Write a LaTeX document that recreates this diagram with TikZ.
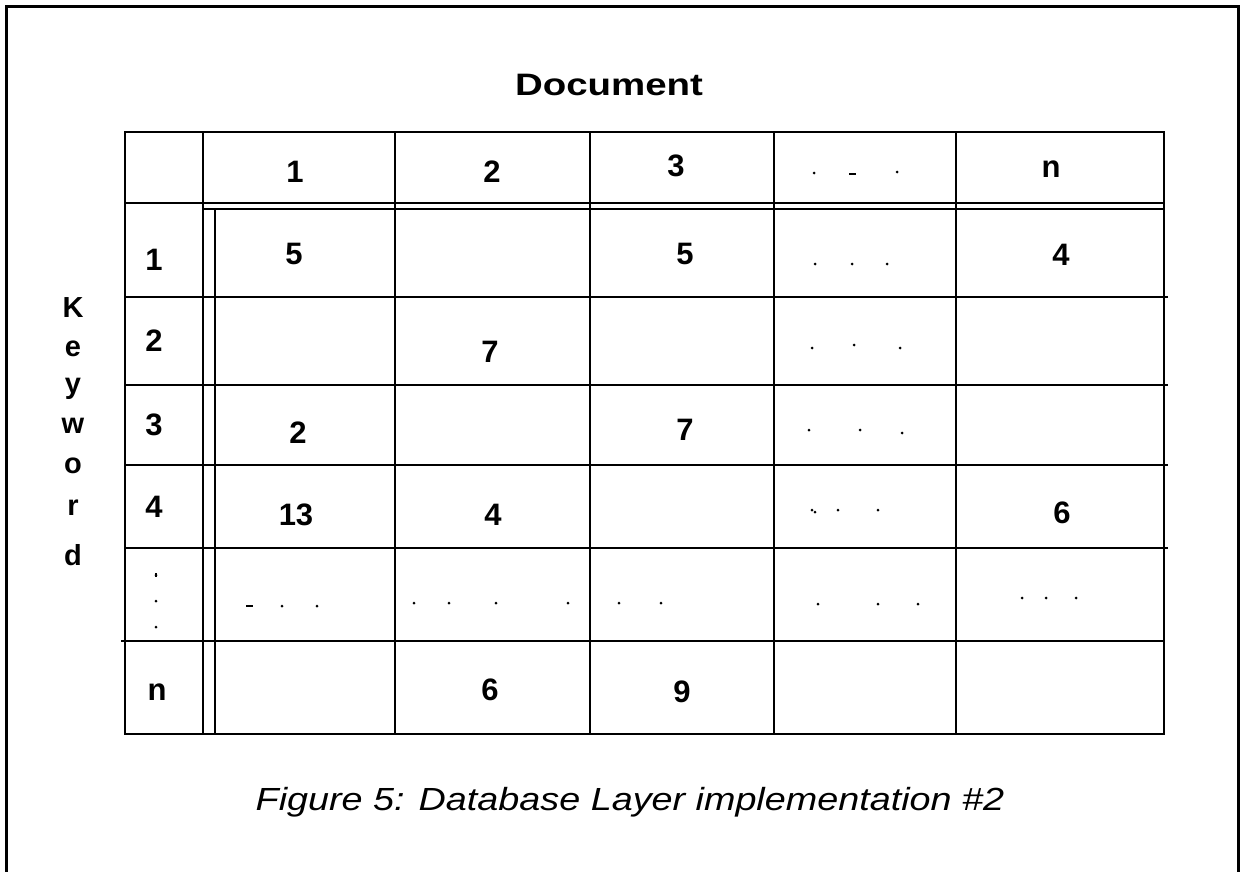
\documentclass[tikz,border=0pt]{standalone}
\usepackage{fontspec}
\setmainfont{Liberation Sans}
\begin{document}
\begin{tikzpicture}[x=1pt,y=-1pt,
  rule/.style={line width=2pt, line cap=rect},
  frame/.style={line width=3pt},
  lbl/.style={font=\fontsize{31}{31}\selectfont\bfseries, inner sep=0pt},
  kw/.style={font=\fontsize{29}{29}\selectfont\bfseries, inner sep=0pt, anchor=base},
  captxt/.style={font=\fontsize{32}{32}\selectfont\itshape, inner sep=0pt, anchor=base, xscale=1.18},
  pt/.style={fill=black},
  dsh/.style={line width=2pt}
]
\useasboundingbox (0,0) rectangle (1243,871);
\clip (0,0) rectangle (1243,871);
\fill[white] (0,0) rectangle (1243,871);
% outer frame (bottom edge out of view)
\draw[frame] (6.5,890) -- (6.5,6.5) -- (1238.5,6.5) -- (1238.5,890);

% title and axis label
\node[lbl, xscale=1.24] (doc) at (609,85) {Document};
\node[kw] (k1) at (73,317) {K};
\node[kw] (k2) at (73,356) {e};
\node[kw] (k3) at (73,393) {y};
\node[kw] (k4) at (73,433) {w};
\node[kw] (k5) at (73,473) {o};
\node[kw] (k6) at (73,515) {r};
\node[kw] (k7) at (73,565) {d};

% table grid
\draw[rule] (125,132) rectangle (1164,734);
\draw[rule] (203,132) -- (203,734);
\foreach \x in {395,590,774,956} \draw[rule] (\x,132) -- (\x,734);
\draw[rule] (125,203) -- (1164,203);
\draw[rule] (205,208.8) -- (1164,208.8);
\draw[rule] (214.5,208.8) -- (214.5,734);
\foreach \y in {297,385,465,548} \draw[rule] (125,\y) -- (1167,\y);
\draw[rule] (122,641) -- (1164,641);

% header row
\node[lbl] (h1) at (295,172) {1};
\node[lbl] (h2) at (492,172) {2};
\node[lbl] (h3) at (676,166) {3};
\node[lbl, anchor=base] (hn) at (1051,177) {n};
\fill[pt] (814,173) circle (1.5);
\draw[dsh] (849,174) -- (856,174);
\fill[pt] (897,172) circle (1.5);

% row labels
\node[lbl] (r1) at (154,260) {1};
\node[lbl] (r2) at (154,341) {2};
\node[lbl] (r3) at (154,425) {3};
\node[lbl] (r4) at (154,507) {4};
\node[lbl, anchor=base] (rn) at (157,700) {n};
\foreach \y in {575,601,627} \fill[pt] (156,\y) circle (1.5);
\draw[dsh] (156,573) -- (156,577);

% row 1
\node[lbl] (c11) at (294,254) {5};
\node[lbl] (c13) at (685,254) {5};
\node[lbl] (c1n) at (1061,255) {4};
\foreach \x/\y in {815/264,852/264,887/264} \fill[pt] (\x,\y) circle (1.5);

% row 2
\node[lbl] (c22) at (490,352) {7};
\foreach \x/\y in {812/348,854/345,900/348} \fill[pt] (\x,\y) circle (1.5);

% row 3
\node[lbl] (c31) at (298,433) {2};
\node[lbl] (c33) at (685,430) {7};
\foreach \x/\y in {809/430,860/430,902/433} \fill[pt] (\x,\y) circle (1.5);

% row 4
\node[lbl] (c41) at (296,515) {13};
\node[lbl] (c42) at (493,515) {4};
\node[lbl] (c4n) at (1062,513) {6};
\foreach \x/\y in {812/510,815/512,838/510,878/510} \fill[pt] (\x,\y) circle (1.5);

% row of ellipses
\draw[dsh] (246,606) -- (253,606);
\foreach \x/\y in {282/606,317/606,414/603,449/603,496/603,568/603,619/603,661/603,818/604,878/604,918/604,1022/598,1046/598,1076/598} \fill[pt] (\x,\y) circle (1.5);

% row n
\node[lbl] (cn2) at (490,690) {6};
\node[lbl] (cn3) at (682,692) {9};

% caption
\node[captxt] (caption) at (630,810) {Figure 5: Database Layer implementation \#2};
\end{tikzpicture}
\end{document}
